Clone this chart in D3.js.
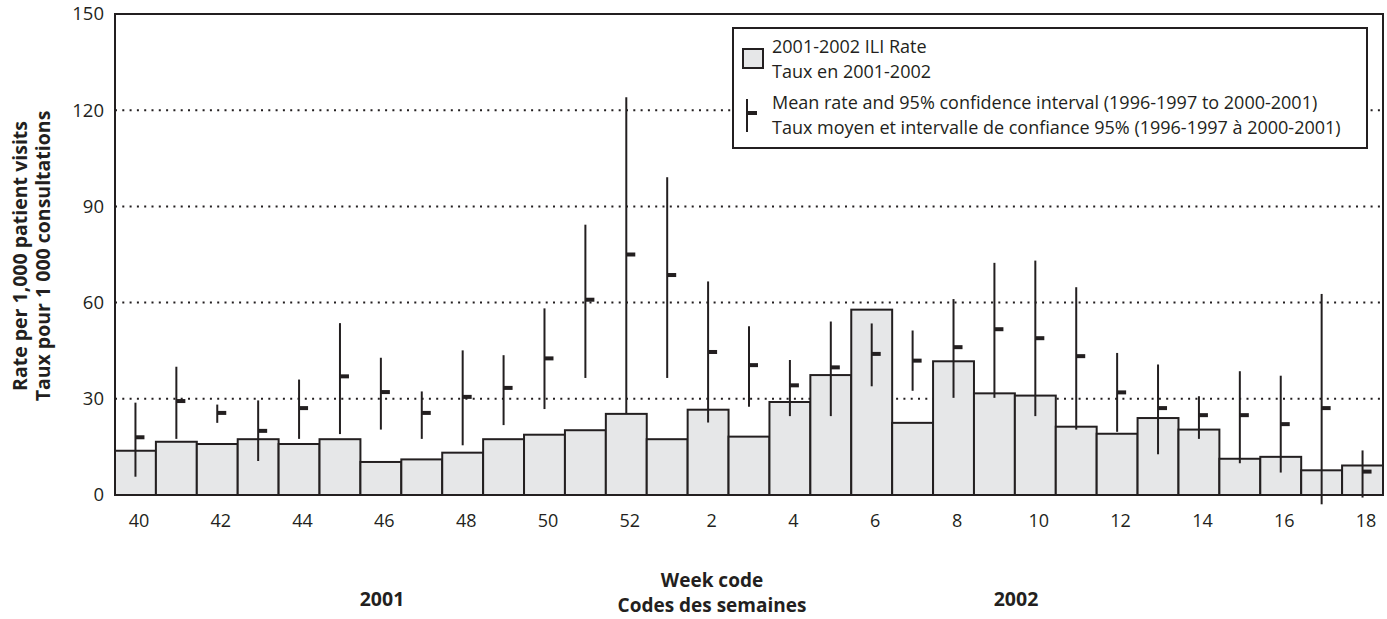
<!DOCTYPE html>
<html><head><meta charset="utf-8">
<script src="https://cdn.jsdelivr.net/npm/d3@7"></script>
<style>body{margin:0;background:#fff}svg{display:block}text{font-family:"Open Sans",sans-serif;fill:#231f20}</style>
</head><body><svg id="c" width="1387" height="619"></svg>
<script>
const weeks = ["40","41","42","43","44","45","46","47","48","49","50","51","52","1","2","3","4","5","6","7","8","9","10","11","12","13","14","15","16","17","18"];
const rate2001 = [13.8,16.6,15.9,17.4,15.9,17.4,10.3,11.1,13.2,17.4,18.8,20.2,25.3,17.4,26.6,18.2,29.0,37.4,57.8,22.5,41.7,31.7,31.0,21.3,19.1,24.0,20.4,11.3,11.9,7.7,9.2];
const meanRate = [18.0,29.3,25.6,20.0,27.1,37.0,32.1,25.6,30.6,33.4,42.6,60.9,75.0,68.6,44.6,40.5,34.2,39.8,44.0,41.9,46.1,51.7,48.9,43.3,32.0,27.1,24.9,24.9,22.1,27.1,7.3];
const ciLow = [5.7,17.5,22.5,10.6,17.5,19.0,20.4,17.5,15.5,21.8,26.8,36.5,25.5,36.5,22.6,27.5,24.6,24.6,33.9,32.5,30.3,30.3,24.6,20.4,19.7,12.7,17.5,9.9,7.0,-2.9,-0.8];
const ciHigh = [28.8,40.0,28.2,29.5,36.0,53.6,42.8,32.3,45.1,43.6,58.2,84.3,124.0,99.1,66.6,52.6,42.1,54.1,53.5,51.3,61.1,72.4,73.1,64.8,44.3,40.7,30.8,38.6,37.2,62.7,13.9];
const yTicks = [0,30,60,90,120,150];
const xTickLabels = ["40","42","44","46","48","50","52","2","4","6","8","10","12","14","16","18"];
const legendLabels = [["2001-2002 ILI Rate","Taux en 2001-2002"],["Mean rate and 95% confidence interval (1996-1997 to 2000-2001)","Taux moyen et intervalle de confiance 95% (1996-1997 à 2000-2001)"]];
const yTitle = ["Rate per 1,000 patient visits","Taux pour 1 000 consultations"];
const xTitle = ["Week code","Codes des semaines"];
const yearLabels = ["2001","2002"];

const svg = d3.select("#c");
const L=115,R=1383,T=14,B=495;
const x = d3.scaleBand().domain(weeks).range([L,R]).padding(0);
const y = d3.scaleLinear().domain([0,150]).range([B,T]);
const ink="#231f20";

// gridlines
svg.append("g").selectAll("line").data(yTicks.filter(d=>d>0&&d<150)).join("line")
  .attr("x1",L).attr("x2",R).attr("y1",d=>y(d)).attr("y2",d=>y(d))
  .attr("stroke",ink).attr("stroke-width",2).attr("stroke-dasharray","2 5.3");

// bars
svg.append("g").selectAll("rect").data(weeks).join("rect")
  .attr("x",d=>x(d)).attr("width",x.bandwidth())
  .attr("y",(d,i)=>y(rate2001[i])).attr("height",(d,i)=>B-y(rate2001[i]))
  .attr("fill","#e6e7e8").attr("stroke",ink).attr("stroke-width",2);

// CI lines
const ci = svg.append("g");
ci.selectAll("line").data(weeks).join("line")
  .attr("x1",d=>x(d)+x.bandwidth()/2).attr("x2",d=>x(d)+x.bandwidth()/2)
  .attr("y1",(d,i)=>y(ciLow[i])).attr("y2",(d,i)=>y(ciHigh[i]))
  .attr("stroke",ink).attr("stroke-width",2);
ci.selectAll("rect").data(weeks).join("rect")
  .attr("x",d=>x(d)+x.bandwidth()/2).attr("width",9)
  .attr("y",(d,i)=>y(meanRate[i])-2).attr("height",4).attr("fill",ink);

// frame
svg.append("rect").attr("x",L).attr("y",T).attr("width",R-L).attr("height",B-T)
  .attr("fill","none").attr("stroke",ink).attr("stroke-width",2);

// y axis labels
const yAxis = d3.axisLeft(y).tickValues(yTicks).tickSize(0).tickPadding(11);
const ga = svg.append("g").attr("transform",`translate(${L},0)`).call(yAxis);
ga.select(".domain").remove();
ga.selectAll("text").style("font-size","18.5px").style("font-family","Open Sans").attr("fill",ink);

// x axis labels
const xAxis = d3.axisBottom(x).tickValues(xTickLabels).tickSize(0).tickPadding(19);
const gx = svg.append("g").attr("transform",`translate(0,${B})`).call(xAxis);
gx.select(".domain").remove();
gx.selectAll("text").style("font-size","18px").style("font-family","Open Sans").attr("fill",ink).attr("dx",3.5);

// y title
const yt = svg.append("text").attr("transform","translate(27,256) rotate(-90)").attr("text-anchor","middle")
  .style("font-size","19.5px").style("font-weight","bold");
yt.selectAll("tspan").data(yTitle).join("tspan").attr("x",0).attr("dy",(d,i)=>i?22.5:0).text(d=>d);

// x title (one text per line)
svg.selectAll(".xt").data(xTitle).join("text").attr("class","xt").attr("text-anchor","middle")
  .style("font-size","19px").style("font-weight","bold")
  .attr("x",712).attr("y",(d,i)=>587+i*25).text(d=>d);
svg.selectAll(".yr").data(yearLabels).join("text").attr("class","yr")
  .attr("x",(d,i)=>i?1016:382).attr("y",606).attr("text-anchor","middle")
  .style("font-size","19.5px").style("font-weight","bold").text(d=>d);

// legend
const lg = svg.append("g");
lg.append("rect").attr("x",733).attr("y",28).attr("width",634).attr("height",120)
  .attr("fill","#fff").attr("stroke",ink).attr("stroke-width",2);
lg.append("rect").attr("x",743).attr("y",49).attr("width",20).attr("height",19)
  .attr("fill","#e6e7e8").attr("stroke",ink).attr("stroke-width",2);
lg.append("line").attr("x1",747).attr("x2",747).attr("y1",99).attr("y2",132).attr("stroke",ink).attr("stroke-width",2);
lg.append("rect").attr("x",747).attr("y",111).attr("width",10).attr("height",4).attr("fill",ink);
legendLabels.forEach((lines,k)=>{
  lg.selectAll(".lt"+k).data(lines).join("text").attr("class","lt"+k).style("font-size","18px")
    .attr("x",772).attr("y",(d,i)=>(k?109:53)+i*24.5).text(d=>d);
});
</script></body></html>
